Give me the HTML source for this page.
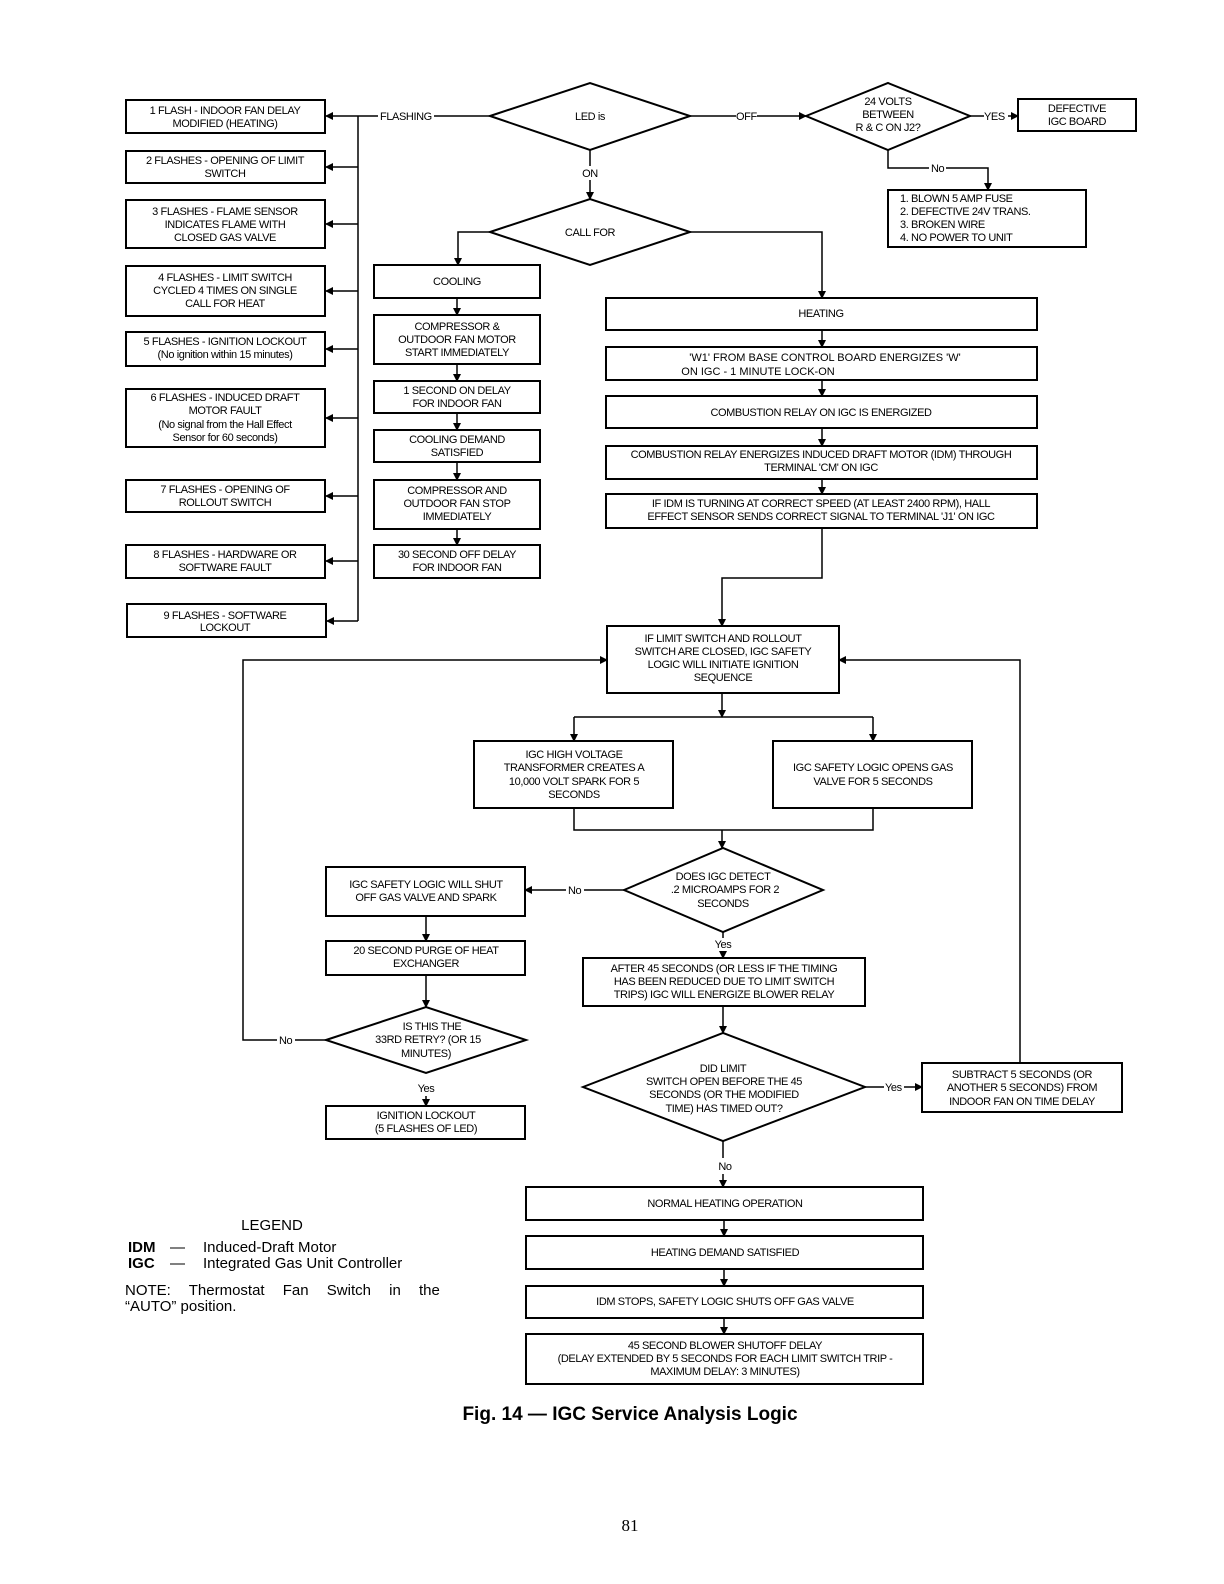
<!DOCTYPE html>
<html><head><meta charset="utf-8"><style>
html,body{margin:0;padding:0;background:#fff;overflow:hidden;width:1224px;height:1584px;}
svg{display:block;}
text{font-family:"Liberation Sans",sans-serif;font-size:11px;fill:#000;letter-spacing:-0.4px;}
.b{fill:#fff;stroke:#000;stroke-width:2;}
.l{stroke:#000;stroke-width:1.5;fill:none;}
</style></head><body>
<svg width="1224" height="1584" viewBox="0 0 1224 1584">
<defs><marker id="a" markerWidth="8" markerHeight="8" refX="7" refY="4" orient="auto" markerUnits="userSpaceOnUse"><path d="M0,0 L8,4 L0,8 z" fill="#000"/></marker></defs>

<g text-anchor="middle">
<rect class="b" x="126" y="100" width="199" height="33"/><text x="225" y="114">1 FLASH - INDOOR FAN DELAY</text><text x="225" y="127">MODIFIED  (HEATING)</text>
<rect class="b" x="126" y="151" width="199" height="32"/><text x="225" y="164">2 FLASHES - OPENING OF LIMIT</text><text x="225" y="177">SWITCH</text>
<rect class="b" x="126" y="200" width="199" height="48"/><text x="225" y="215">3 FLASHES - FLAME SENSOR</text><text x="225" y="228">INDICATES FLAME WITH</text><text x="225" y="241">CLOSED GAS VALVE</text>
<rect class="b" x="126" y="266" width="199" height="50"/><text x="225" y="281">4 FLASHES - LIMIT SWITCH</text><text x="225" y="294">CYCLED 4 TIMES ON SINGLE</text><text x="225" y="307">CALL FOR HEAT</text>
<rect class="b" x="126" y="332" width="199" height="34"/><text x="225" y="345">5 FLASHES - IGNITION LOCKOUT</text><text x="225" y="358">(No ignition within 15 minutes)</text>
<rect class="b" x="126" y="389" width="199" height="58"/><text x="225" y="401">6 FLASHES - INDUCED DRAFT</text><text x="225" y="414">MOTOR FAULT</text><text x="225" y="428">(No signal from the Hall Effect</text><text x="225" y="441">Sensor for 60 seconds)</text>
<rect class="b" x="126" y="480" width="199" height="32"/><text x="225" y="493">7 FLASHES - OPENING OF</text><text x="225" y="506">ROLLOUT SWITCH</text>
<rect class="b" x="126" y="545" width="199" height="33"/><text x="225" y="558">8 FLASHES - HARDWARE OR</text><text x="225" y="571">SOFTWARE FAULT</text>
<rect class="b" x="127" y="604" width="199" height="33"/><text x="225" y="619">9 FLASHES - SOFTWARE</text><text x="225" y="631">LOCKOUT</text>
</g>
<path class="l" d="M358,116 V621"/>
<g class="l" marker-end="url(#a)">
<path d="M358,116 H326"/><path d="M358,167 H326"/><path d="M358,224 H326"/><path d="M358,291 H326"/><path d="M358,349 H326"/><path d="M358,418 H326"/><path d="M358,496 H326"/><path d="M358,561 H326"/><path d="M358,621 H327"/>
</g>
<path class="l" d="M358,116 H378 M434,116 H490"/><text x="380" y="120">FLASHING</text>

<path class="b" d="M490,116 L590,83 L690,116 L590,150 Z"/><text x="590" y="120" text-anchor="middle">LED is</text>
<path class="l" d="M690,116 H736 M757,116 H806" marker-end="url(#a)"/><text x="736" y="120">OFF</text>
<path class="b" d="M806,116 L888,83 L970,116 L888,150 Z"/>
<g text-anchor="middle"><text x="888" y="105">24 VOLTS</text><text x="888" y="118">BETWEEN</text><text x="888" y="131">R &amp; C ON J2?</text></g>
<path class="l" d="M970,116 H984 M1008,116 H1018" marker-end="url(#a)"/><text x="984" y="120">YES</text>
<rect class="b" x="1018" y="99" width="118" height="32"/><g text-anchor="middle"><text x="1077" y="112">DEFECTIVE</text><text x="1077" y="125">IGC BOARD</text></g>
<path class="l" d="M888,150 V168 H929 M946,168 H988 V190" marker-end="url(#a)"/><text x="931" y="172">No</text>
<rect class="b" x="888" y="190" width="198" height="57"/>
<text x="900" y="202">1.  BLOWN 5 AMP FUSE</text><text x="900" y="215">2.  DEFECTIVE 24V TRANS.</text><text x="900" y="228">3.   BROKEN WIRE</text><text x="900" y="241">4.  NO POWER TO UNIT</text>

<path class="l" d="M590,150 V166 M590,180 V199" marker-end="url(#a)"/><text x="590" y="177" text-anchor="middle">ON</text>
<path class="b" d="M490,232 L590,199 L690,232 L590,265 Z"/><text x="590" y="236" text-anchor="middle">CALL FOR</text>
<path class="l" d="M490,232 H458 V265" marker-end="url(#a)"/>
<path class="l" d="M690,232 H822 V298" marker-end="url(#a)"/>

<g text-anchor="middle">
<rect class="b" x="374" y="265" width="166" height="33"/><text x="457" y="285">COOLING</text>
<rect class="b" x="374" y="315" width="166" height="49"/><text x="457" y="330">COMPRESSOR &amp;</text><text x="457" y="343">OUTDOOR FAN MOTOR</text><text x="457" y="356">START IMMEDIATELY</text>
<rect class="b" x="374" y="381" width="166" height="32"/><text x="457" y="394">1 SECOND ON DELAY</text><text x="457" y="407">FOR INDOOR FAN</text>
<rect class="b" x="374" y="430" width="166" height="32"/><text x="457" y="443">COOLING DEMAND</text><text x="457" y="456">SATISFIED</text>
<rect class="b" x="374" y="480" width="166" height="49"/><text x="457" y="494">COMPRESSOR AND</text><text x="457" y="507">OUTDOOR FAN STOP</text><text x="457" y="520">IMMEDIATELY</text>
<rect class="b" x="374" y="545" width="166" height="33"/><text x="457" y="558">30 SECOND OFF DELAY</text><text x="457" y="571">FOR INDOOR FAN</text>
</g>
<g class="l" marker-end="url(#a)"><path d="M457,298 V315"/><path d="M457,364 V381"/><path d="M457,413 V430"/><path d="M457,462 V480"/><path d="M457,529 V545"/></g>

<g text-anchor="middle">
<rect class="b" x="606" y="298" width="431" height="32"/><text x="821" y="317">HEATING</text>
<rect class="b" x="606" y="347" width="431" height="33"/><text x="825" y="361" style="letter-spacing:0">'W1' FROM BASE CONTROL BOARD ENERGIZES 'W'</text><text x="758" y="375" style="letter-spacing:0">ON IGC - 1 MINUTE LOCK-ON</text>
<rect class="b" x="606" y="396" width="431" height="32"/><text x="821" y="416">COMBUSTION RELAY ON IGC IS ENERGIZED</text>
<rect class="b" x="606" y="446" width="431" height="33"/><text x="821" y="458">COMBUSTION RELAY ENERGIZES INDUCED DRAFT MOTOR (IDM) THROUGH</text><text x="821" y="471">TERMINAL 'CM' ON IGC</text>
<rect class="b" x="606" y="494" width="431" height="34"/><text x="821" y="507">IF IDM IS TURNING AT CORRECT SPEED (AT LEAST 2400 RPM), HALL</text><text x="821" y="520">EFFECT SENSOR SENDS CORRECT SIGNAL TO TERMINAL 'J1' ON IGC</text>
</g>
<g class="l" marker-end="url(#a)"><path d="M822,330 V347"/><path d="M822,380 V396"/><path d="M822,428 V446"/><path d="M822,479 V494"/><path d="M822,528 V578 H722 V626"/></g>

<g text-anchor="middle">
<rect class="b" x="607" y="626" width="232" height="67"/><text x="723" y="642">IF LIMIT SWITCH AND ROLLOUT</text><text x="723" y="655">SWITCH ARE CLOSED, IGC SAFETY</text><text x="723" y="668">LOGIC WILL INITIATE IGNITION</text><text x="723" y="681">SEQUENCE</text>
</g>
<path class="l" d="M722,693 V717" marker-end="url(#a)"/>
<path class="l" d="M574,717 H873"/>
<path class="l" d="M574,717 V741" marker-end="url(#a)"/><path class="l" d="M873,717 V741" marker-end="url(#a)"/>
<g text-anchor="middle">
<rect class="b" x="474" y="741" width="199" height="67"/><text x="574" y="758">IGC HIGH VOLTAGE</text><text x="574" y="771">TRANSFORMER CREATES A</text><text x="574" y="785">10,000 VOLT SPARK FOR 5</text><text x="574" y="798">SECONDS</text>
<rect class="b" x="773" y="741" width="199" height="67"/><text x="873" y="771">IGC SAFETY LOGIC OPENS GAS</text><text x="873" y="785">VALVE FOR 5 SECONDS</text>
</g>
<path class="l" d="M574,808 V830 H873 V808"/>
<path class="l" d="M722,830 V848" marker-end="url(#a)"/>
<path class="b" d="M624,890 L723,848 L823,890 L723,932 Z"/>
<g text-anchor="middle"><text x="723" y="880">DOES IGC DETECT</text><text x="725" y="893">.2 MICROAMPS FOR 2</text><text x="723" y="907">SECONDS</text></g>
<path class="l" d="M624,890 H584 M566,890 H525" marker-end="url(#a)"/><text x="568" y="894">No</text>
<g text-anchor="middle">
<rect class="b" x="326" y="867" width="199" height="49"/><text x="426" y="888">IGC SAFETY LOGIC WILL SHUT</text><text x="426" y="901">OFF GAS VALVE AND SPARK</text>
<rect class="b" x="326" y="941" width="199" height="34"/><text x="426" y="954">20 SECOND PURGE OF HEAT</text><text x="426" y="967">EXCHANGER</text>
</g>
<path class="l" d="M426,916 V941" marker-end="url(#a)"/>
<path class="l" d="M426,975 V1007" marker-end="url(#a)"/>
<path class="b" d="M326,1040 L426,1007 L526,1040 L426,1073 Z"/>
<g text-anchor="middle"><text x="432" y="1030">IS THIS THE</text><text x="428" y="1043">33RD RETRY? (OR 15</text><text x="426" y="1057">MINUTES)</text></g>
<path class="l" d="M326,1040 H295 M277,1040 H243 V660 H607" marker-end="url(#a)"/><text x="279" y="1044">No</text>
<text x="426" y="1092" text-anchor="middle">Yes</text>
<path class="l" d="M426,1096 V1106" marker-end="url(#a)"/>
<rect class="b" x="326" y="1106" width="199" height="33"/><g text-anchor="middle"><text x="426" y="1119">IGNITION LOCKOUT</text><text x="426" y="1132">(5 FLASHES OF LED)</text></g>

<text x="723" y="948" text-anchor="middle">Yes</text>
<path class="l" d="M723,932 V938 M723,952 V958" marker-end="url(#a)"/>
<rect class="b" x="583" y="958" width="282" height="48"/>
<g text-anchor="middle"><text x="724" y="972">AFTER 45 SECONDS (OR LESS IF THE TIMING</text><text x="724" y="985">HAS BEEN REDUCED DUE TO LIMIT SWITCH</text><text x="724" y="998">TRIPS) IGC WILL ENERGIZE BLOWER RELAY</text></g>
<path class="l" d="M723,1006 V1033" marker-end="url(#a)"/>
<path class="b" d="M583,1087 L723,1033 L865,1087 L723,1141 Z"/>
<g text-anchor="middle"><text x="723" y="1072">DID LIMIT</text><text x="724" y="1085">SWITCH OPEN BEFORE THE 45</text><text x="724" y="1098">SECONDS (OR THE MODIFIED</text><text x="724" y="1112">TIME) HAS TIMED OUT?</text></g>
<path class="l" d="M865,1087 H884 M904,1087 H922" marker-end="url(#a)"/><text x="885" y="1091">Yes</text>
<rect class="b" x="922" y="1063" width="200" height="49"/>
<g text-anchor="middle"><text x="1022" y="1078">SUBTRACT 5 SECONDS (OR</text><text x="1022" y="1091">ANOTHER 5 SECONDS) FROM</text><text x="1022" y="1105">INDOOR FAN ON TIME DELAY</text></g>
<path class="l" d="M1020,1063 V660 H839" marker-end="url(#a)"/>
<text x="725" y="1170" text-anchor="middle">No</text>
<path class="l" d="M723,1141 V1158 M723,1174 V1187" marker-end="url(#a)"/>
<g text-anchor="middle">
<rect class="b" x="526" y="1187" width="397" height="33"/><text x="725" y="1207">NORMAL HEATING OPERATION</text>
<rect class="b" x="526" y="1236" width="397" height="33"/><text x="725" y="1256">HEATING DEMAND SATISFIED</text>
<rect class="b" x="526" y="1286" width="397" height="32"/><text x="725" y="1305">IDM STOPS, SAFETY LOGIC SHUTS OFF GAS VALVE</text>
<rect class="b" x="526" y="1334" width="397" height="50"/><text x="725" y="1349">45 SECOND BLOWER SHUTOFF DELAY</text><text x="725" y="1362">(DELAY EXTENDED BY 5 SECONDS FOR EACH LIMIT SWITCH TRIP -</text><text x="725" y="1375">MAXIMUM DELAY: 3 MINUTES)</text>
</g>
<g class="l" marker-end="url(#a)"><path d="M724,1220 V1236"/><path d="M724,1269 V1286"/><path d="M724,1318 V1334"/></g>

<g>
<text x="272" y="1230" text-anchor="middle" style="font-size:15px;letter-spacing:0">LEGEND</text>
<text x="128" y="1252" style="font-size:15px;font-weight:bold;letter-spacing:0">IDM</text><text x="170" y="1252" style="font-size:15px;letter-spacing:0">—</text><text x="203" y="1252" style="font-size:15px;letter-spacing:0">Induced-Draft Motor</text>
<text x="128" y="1268" style="font-size:15px;font-weight:bold;letter-spacing:0">IGC</text><text x="170" y="1268" style="font-size:15px;letter-spacing:0">—</text><text x="203" y="1268" style="font-size:15px;letter-spacing:0">Integrated Gas Unit Controller</text>
<text x="125" y="1295" style="font-size:15px;letter-spacing:0;word-spacing:14px">NOTE: Thermostat Fan Switch in the</text>
<text x="125" y="1311" style="font-size:15px;letter-spacing:0">“AUTO” position.</text>
<text x="630" y="1420" text-anchor="middle" style="font-size:19px;font-weight:bold;letter-spacing:0">Fig. 14 — IGC Service Analysis Logic</text>
<text x="630" y="1531" text-anchor="middle" style="font-family:'Liberation Serif',serif;font-size:17px;letter-spacing:0">81</text>
</g>
</svg>
</body></html>
